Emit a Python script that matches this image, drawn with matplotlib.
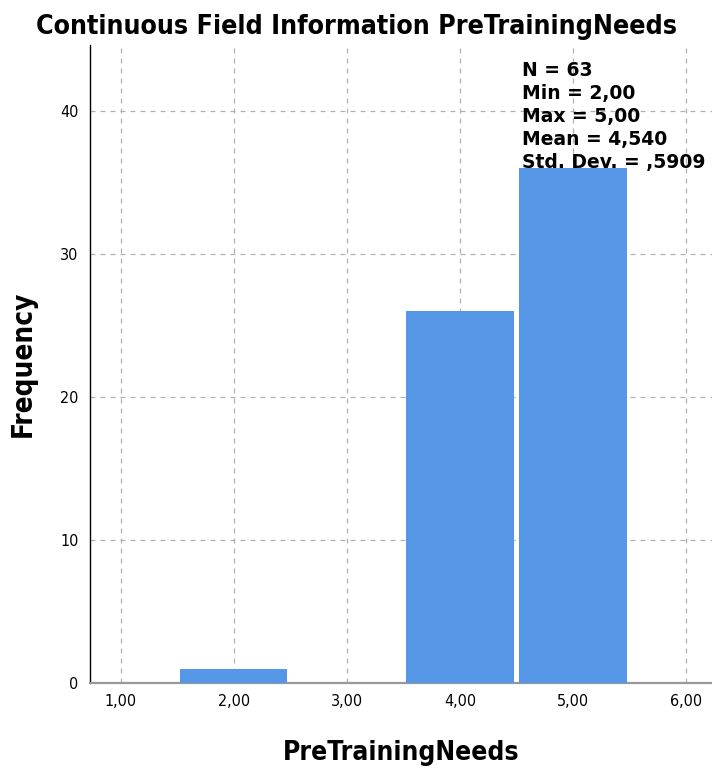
import matplotlib
matplotlib.use("Agg")
from matplotlib import pyplot as plt

# histogram data
bin_centers = [1, 2, 3, 4, 5, 6]
counts = [0, 1, 0, 26, 36, 0]
x_ticks = [1, 2, 3, 4, 5, 6]
x_tick_labels = ["1,00", "2,00", "3,00", "4,00", "5,00", "6,00"]
y_ticks = [0, 10, 20, 30, 40]
stats_lines = ["N = 63", "Min = 2,00", "Max = 5,00", "Mean = 4,540", "Std. Dev. = ,5909"]

narrow = ["DejaVu Sans"]
barColor = "#5596e6"

fig = plt.figure(figsize=(7.12, 7.71), dpi=100)
ax = fig.add_axes([0.126, 0.114, 0.874, 0.828])

ax.bar(bin_centers, counts, width=0.95, color=barColor, edgecolor="none", zorder=3)

ax.set_xlim(0.726, 6.23)
ax.set_ylim(0, 44.6)
ax.set_xticks(x_ticks)
ax.set_xticklabels(x_tick_labels, family=narrow, fontstretch="condensed", fontsize=11.5)
ax.set_yticks(y_ticks)
ax.set_yticklabels([str(v) for v in y_ticks], family=narrow, fontstretch="condensed", fontsize=11.5)
ax.tick_params(length=0, pad=8)

ax.grid(True, color="#b0b0b0", linestyle=(0, (4, 4)), linewidth=0.9, zorder=0)

for side in ["top", "right"]:
    ax.spines[side].set_visible(False)
ax.spines["left"].set_color("black")
ax.spines["left"].set_linewidth(1.0)
ax.spines["bottom"].set_color("#999999")
ax.spines["bottom"].set_linestyle((0, (2, 1)))
ax.spines["bottom"].set_linewidth(1.6)

fig.text(0.5, 0.982, "Continuous Field Information PreTrainingNeeds",
         ha="center", va="top", family=narrow, fontstretch="condensed",
         fontweight="bold", fontsize=19.2)
ax.set_xlabel("PreTrainingNeeds", family=narrow, fontstretch="condensed",
              fontweight="bold", fontsize=19, labelpad=22)
ax.set_ylabel("Frequency", family=narrow, fontstretch="condensed",
              fontweight="bold", fontsize=20, labelpad=17)

ax.text(0.695, 0.975, "\n".join(stats_lines), transform=ax.transAxes,
        ha="left", va="top", fontsize=13.5, fontweight="bold", linespacing=1.27,
        family=["DejaVu Sans"], zorder=5)

fig.savefig("out.png", dpi=100)
